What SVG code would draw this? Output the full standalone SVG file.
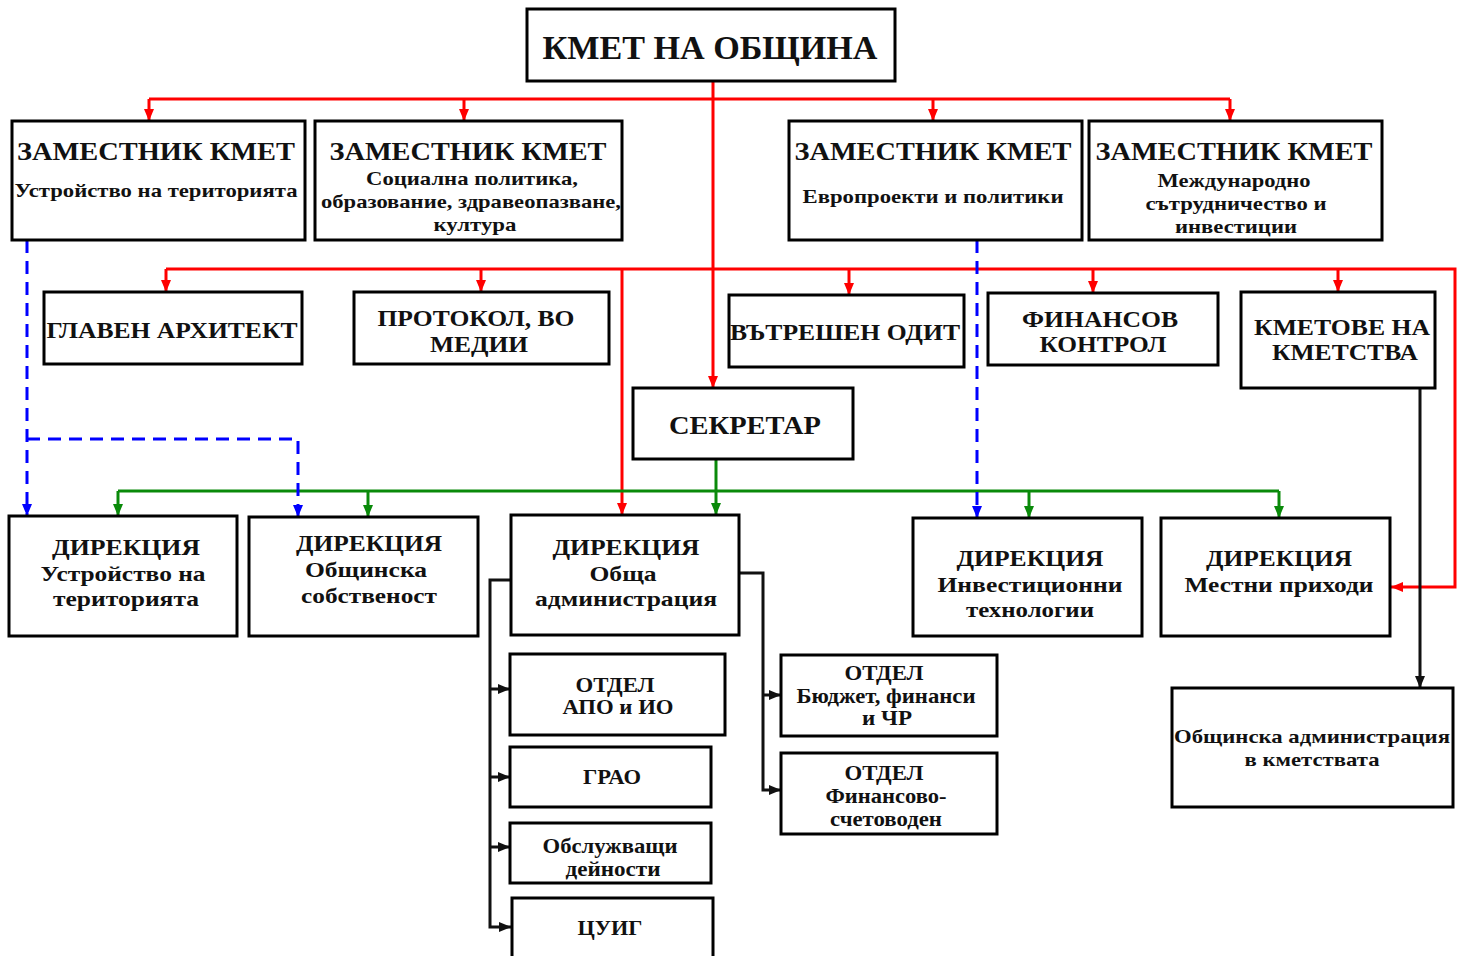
<svg xmlns="http://www.w3.org/2000/svg" width="1469" height="956" viewBox="0 0 1469 956">
<style>
  .box { fill: #fff; stroke: #000; stroke-width: 3; }
  text { font-family: "Liberation Serif", "Times New Roman", serif; font-weight: bold; fill: #111; text-anchor: middle; }
  .t32 { font-size: 33px; }
  .t26 { font-size: 26px; }
  .t24 { font-size: 24px; }
  .t21 { font-size: 21px; }
  .t19 { font-size: 19px; }
  .red { stroke: #ff0000; stroke-width: 3; fill: none; }
  .green { stroke: #0a8a0a; stroke-width: 3; fill: none; }
  .blue { stroke: #0000ff; stroke-width: 3; fill: none; stroke-dasharray: 13 8; }
  .black { stroke: #111; stroke-width: 3; fill: none; }
</style>
<defs>
  <marker id="aRed" markerUnits="userSpaceOnUse" markerWidth="12" markerHeight="12" viewBox="0 0 12 12" refX="12" refY="6" orient="auto"><path d="M0,1 L12,6 L0,11 Z" fill="#ff0000"/></marker>
  <marker id="aGreen" markerUnits="userSpaceOnUse" markerWidth="12" markerHeight="12" viewBox="0 0 12 12" refX="12" refY="6" orient="auto"><path d="M0,1 L12,6 L0,11 Z" fill="#0a8a0a"/></marker>
  <marker id="aBlue" markerUnits="userSpaceOnUse" markerWidth="12" markerHeight="12" viewBox="0 0 12 12" refX="12" refY="6" orient="auto"><path d="M0,1 L12,6 L0,11 Z" fill="#0000ff"/></marker>
  <marker id="aBlack" markerUnits="userSpaceOnUse" markerWidth="12" markerHeight="12" viewBox="0 0 12 12" refX="12" refY="6" orient="auto"><path d="M0,1 L12,6 L0,11 Z" fill="#111"/></marker>
</defs>

<g id="connectors">
  <!-- red from mayor -->
  <path class="red" d="M149 99 H1230"/>
  <path class="red" d="M149 99 V121" marker-end="url(#aRed)"/>
  <path class="red" d="M464 99 V121" marker-end="url(#aRed)"/>
  <path class="red" d="M933 99 V121" marker-end="url(#aRed)"/>
  <path class="red" d="M1230 99 V121" marker-end="url(#aRed)"/>
  <path class="red" d="M713 81 V388" marker-end="url(#aRed)"/>
  <path class="red" d="M166 269 H1455 V587 H1391" marker-end="url(#aRed)"/>
  <path class="red" d="M166 269 V292" marker-end="url(#aRed)"/>
  <path class="red" d="M481 269 V292" marker-end="url(#aRed)"/>
  <path class="red" d="M849 269 V295" marker-end="url(#aRed)"/>
  <path class="red" d="M1093 269 V293" marker-end="url(#aRed)"/>
  <path class="red" d="M1338 269 V292" marker-end="url(#aRed)"/>
  <path class="red" d="M622 269 V515" marker-end="url(#aRed)"/>
  <!-- green from secretary -->
  <path class="green" d="M118 491 H1279"/>
  <path class="green" d="M716 459 V515" marker-end="url(#aGreen)"/>
  <path class="green" d="M118 491 V516" marker-end="url(#aGreen)"/>
  <path class="green" d="M368 491 V517" marker-end="url(#aGreen)"/>
  <path class="green" d="M1029 491 V518" marker-end="url(#aGreen)"/>
  <path class="green" d="M1279 491 V518" marker-end="url(#aGreen)"/>
  <!-- blue dashed -->
  <path class="blue" d="M27 240 V516" marker-end="url(#aBlue)"/>
  <path class="blue" d="M27 439 H298 V517" marker-end="url(#aBlue)"/>
  <path class="blue" d="M977 240 V518" marker-end="url(#aBlue)"/>
  <!-- black -->
  <path class="black" d="M511 580 H490 V927 H511" marker-end="url(#aBlack)"/>
  <path class="black" d="M490 689 H510" marker-end="url(#aBlack)"/>
  <path class="black" d="M490 777 H510" marker-end="url(#aBlack)"/>
  <path class="black" d="M490 847 H510" marker-end="url(#aBlack)"/>
  <path class="black" d="M739 573 H763 V790 H781" marker-end="url(#aBlack)"/>
  <path class="black" d="M763 695 H781" marker-end="url(#aBlack)"/>
  <path class="black" d="M1420 388 V688" marker-end="url(#aBlack)"/>
</g>

<g id="mayor">
  <rect class="box" x="527" y="9" width="368" height="72"/>
  <text class="t32" x="710" y="59" textLength="335" lengthAdjust="spacingAndGlyphs">КМЕТ НА ОБЩИНА</text>
</g>

<g id="deputy1">
  <rect class="box" x="12" y="121" width="293" height="119"/>
  <text class="t26" x="156" y="160" textLength="278" lengthAdjust="spacingAndGlyphs">ЗАМЕСТНИК КМЕТ</text>
  <text class="t19" x="156" y="197" textLength="283" lengthAdjust="spacingAndGlyphs">Устройство на територията</text>
</g>
<g id="deputy2">
  <rect class="box" x="315" y="121" width="307" height="119"/>
  <text class="t26" x="468" y="160" textLength="277" lengthAdjust="spacingAndGlyphs">ЗАМЕСТНИК КМЕТ</text>
  <text class="t19" x="472" y="185" textLength="212" lengthAdjust="spacingAndGlyphs">Социална политика,</text>
  <text class="t19" x="471" y="208" textLength="300" lengthAdjust="spacingAndGlyphs">образование, здравеопазване,</text>
  <text class="t19" x="475" y="231" textLength="83" lengthAdjust="spacingAndGlyphs">култура</text>
</g>
<g id="deputy3">
  <rect class="box" x="789" y="121" width="293" height="119"/>
  <text class="t26" x="933" y="160" textLength="277" lengthAdjust="spacingAndGlyphs">ЗАМЕСТНИК КМЕТ</text>
  <text class="t19" x="933" y="203" textLength="261" lengthAdjust="spacingAndGlyphs">Европроекти и политики</text>
</g>
<g id="deputy4">
  <rect class="box" x="1089" y="121" width="293" height="119"/>
  <text class="t26" x="1234" y="160" textLength="277" lengthAdjust="spacingAndGlyphs">ЗАМЕСТНИК КМЕТ</text>
  <text class="t19" x="1234" y="187" textLength="153" lengthAdjust="spacingAndGlyphs">Международно</text>
  <text class="t19" x="1236" y="210" textLength="181" lengthAdjust="spacingAndGlyphs">сътрудничество и</text>
  <text class="t19" x="1236" y="233" textLength="122" lengthAdjust="spacingAndGlyphs">инвестиции</text>
</g>

<g id="chief-architect">
  <rect class="box" x="44" y="292" width="258" height="72"/>
  <text class="t24" x="172" y="338" textLength="251" lengthAdjust="spacingAndGlyphs">ГЛАВЕН АРХИТЕКТ</text>
</g>
<g id="protocol">
  <rect class="box" x="354" y="292" width="255" height="72"/>
  <text class="t24" x="476" y="326" textLength="197" lengthAdjust="spacingAndGlyphs">ПРОТОКОЛ, ВО</text>
  <text class="t24" x="479" y="352" textLength="98" lengthAdjust="spacingAndGlyphs">МЕДИИ</text>
</g>
<g id="internal-audit">
  <rect class="box" x="729" y="295" width="235" height="72"/>
  <text class="t24" x="845" y="340" textLength="230" lengthAdjust="spacingAndGlyphs">ВЪТРЕШЕН ОДИТ</text>
</g>
<g id="financial-control">
  <rect class="box" x="988" y="293" width="230" height="72"/>
  <text class="t24" x="1100" y="327" textLength="156" lengthAdjust="spacingAndGlyphs">ФИНАНСОВ</text>
  <text class="t24" x="1103" y="352" textLength="127" lengthAdjust="spacingAndGlyphs">КОНТРОЛ</text>
</g>
<g id="village-mayors">
  <rect class="box" x="1241" y="292" width="194" height="96"/>
  <text class="t24" x="1342" y="335" textLength="176" lengthAdjust="spacingAndGlyphs">КМЕТОВЕ НА</text>
  <text class="t24" x="1345" y="360" textLength="146" lengthAdjust="spacingAndGlyphs">КМЕТСТВА</text>
</g>

<g id="secretary">
  <rect class="box" x="633" y="388" width="220" height="71"/>
  <text class="t26" x="745" y="434" textLength="152" lengthAdjust="spacingAndGlyphs">СЕКРЕТАР</text>
</g>

<g id="dir-territory">
  <rect class="box" x="9" y="516" width="228" height="120"/>
  <text class="t24" x="126" y="555" textLength="148" lengthAdjust="spacingAndGlyphs">ДИРЕКЦИЯ</text>
  <text class="t21" x="123" y="581" textLength="165" lengthAdjust="spacingAndGlyphs">Устройство на</text>
  <text class="t21" x="126" y="606" textLength="146" lengthAdjust="spacingAndGlyphs">територията</text>
</g>
<g id="dir-property">
  <rect class="box" x="249" y="517" width="229" height="119"/>
  <text class="t24" x="369" y="551" textLength="146" lengthAdjust="spacingAndGlyphs">ДИРЕКЦИЯ</text>
  <text class="t21" x="366" y="577" textLength="122" lengthAdjust="spacingAndGlyphs">Общинска</text>
  <text class="t21" x="369" y="603" textLength="136" lengthAdjust="spacingAndGlyphs">собственост</text>
</g>
<g id="dir-general-admin">
  <rect class="box" x="511" y="515" width="228" height="120"/>
  <text class="t24" x="626" y="555" textLength="147" lengthAdjust="spacingAndGlyphs">ДИРЕКЦИЯ</text>
  <text class="t21" x="623" y="581" textLength="67" lengthAdjust="spacingAndGlyphs">Обща</text>
  <text class="t21" x="626" y="606" textLength="182" lengthAdjust="spacingAndGlyphs">администрация</text>
</g>
<g id="dir-investment">
  <rect class="box" x="913" y="518" width="229" height="118"/>
  <text class="t24" x="1030" y="566" textLength="147" lengthAdjust="spacingAndGlyphs">ДИРЕКЦИЯ</text>
  <text class="t21" x="1030" y="592" textLength="185" lengthAdjust="spacingAndGlyphs">Инвестиционни</text>
  <text class="t21" x="1030" y="617" textLength="128" lengthAdjust="spacingAndGlyphs">технологии</text>
</g>
<g id="dir-local-revenue">
  <rect class="box" x="1161" y="518" width="229" height="118"/>
  <text class="t24" x="1279" y="566" textLength="146" lengthAdjust="spacingAndGlyphs">ДИРЕКЦИЯ</text>
  <text class="t21" x="1279" y="592" textLength="189" lengthAdjust="spacingAndGlyphs">Местни приходи</text>
</g>

<g id="dept-apo">
  <rect class="box" x="510" y="654" width="215" height="81"/>
  <text class="t21" x="615" y="692" textLength="79" lengthAdjust="spacingAndGlyphs">ОТДЕЛ</text>
  <text class="t21" x="618" y="714" textLength="111" lengthAdjust="spacingAndGlyphs">АПО и ИО</text>
</g>
<g id="dept-grao">
  <rect class="box" x="510" y="747" width="201" height="60"/>
  <text class="t21" x="612" y="784" textLength="58" lengthAdjust="spacingAndGlyphs">ГРАО</text>
</g>
<g id="dept-services">
  <rect class="box" x="510" y="823" width="201" height="60"/>
  <text class="t21" x="610" y="853" textLength="135" lengthAdjust="spacingAndGlyphs">Обслужващи</text>
  <text class="t21" x="613" y="876" textLength="95" lengthAdjust="spacingAndGlyphs">дейности</text>
</g>
<g id="dept-cuig">
  <rect class="box" x="512" y="898" width="201" height="70"/>
  <text class="t21" x="610" y="935" textLength="65" lengthAdjust="spacingAndGlyphs">ЦУИГ</text>
</g>
<g id="dept-budget">
  <rect class="box" x="781" y="655" width="216" height="81"/>
  <text class="t21" x="884" y="680" textLength="79" lengthAdjust="spacingAndGlyphs">ОТДЕЛ</text>
  <text class="t21" x="886" y="703" textLength="179" lengthAdjust="spacingAndGlyphs">Бюджет, финанси</text>
  <text class="t21" x="887" y="725" textLength="50" lengthAdjust="spacingAndGlyphs">и ЧР</text>
</g>
<g id="dept-accounting">
  <rect class="box" x="781" y="753" width="216" height="81"/>
  <text class="t21" x="884" y="780" textLength="79" lengthAdjust="spacingAndGlyphs">ОТДЕЛ</text>
  <text class="t21" x="886" y="803" textLength="121" lengthAdjust="spacingAndGlyphs">Финансово-</text>
  <text class="t21" x="886" y="826" textLength="112" lengthAdjust="spacingAndGlyphs">счетоводен</text>
</g>
<g id="village-admin">
  <rect class="box" x="1172" y="688" width="281" height="119"/>
  <text class="t19" x="1312" y="743" textLength="276" lengthAdjust="spacingAndGlyphs">Общинска администрация</text>
  <text class="t19" x="1312" y="766" textLength="135" lengthAdjust="spacingAndGlyphs">в кметствата</text>
</g>
</svg>
